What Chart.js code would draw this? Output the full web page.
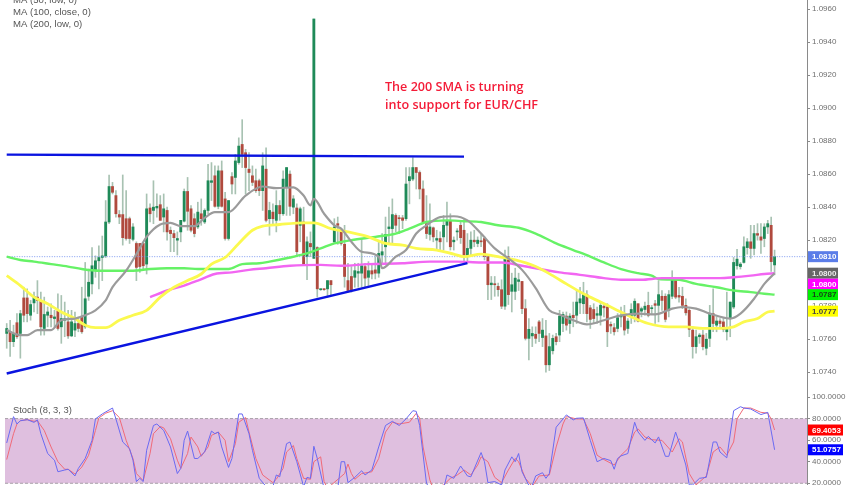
<!DOCTYPE html>
<html>
<head>
<meta charset="utf-8">
<style>
  html, body { margin: 0; padding: 0; background: #fff; overflow: hidden; }
  canvas { position: absolute; left: 0; filter: blur(0.35px); }
  #priceChart { top: 0; }
  #stochChart { top: 388px; }
</style>
<script src="https://cdn.jsdelivr.net/npm/chart.js@4"></script>
</head>
<body>
<canvas id="priceChart" width="852" height="394"></canvas>
<canvas id="stochChart" width="852" height="97"></canvas>
<script>
// EUR/CHF candles, one value per bar
const opens = [
1.07635,1.07645,1.07585,1.077,1.07635,1.0785,1.0785,1.07745,1.0782,1.07855,
1.07835,1.07665,1.07745,1.07745,1.07725,1.0777,1.07675,1.07715,1.07705,1.0762,
1.07655,1.07695,1.07735,1.07675,1.0786,1.07935,1.0802,1.08075,1.08095,1.08105,
1.0831,1.08525,1.0847,1.08355,1.08355,1.0833,1.0833,1.08205,1.0818,1.0818,
1.0818,1.08055,1.08395,1.0838,1.08395,1.08415,1.0834,1.0838,1.0826,1.0824,
1.082,1.0825,1.08315,1.08495,1.0839,1.0833,1.0828,1.0836,1.0831,1.0838,
1.0855,1.0859,1.08405,1.0862,1.0845,1.0821,1.08585,1.0858,1.0867,1.0878,
1.0873,1.0863,1.0859,1.0856,1.0856,1.085,1.0863,1.0833,1.0837,1.0832,
1.0841,1.0836,1.0852,1.086,1.084,1.08395,1.0829,1.0831,1.081,1.0818,
1.0809,1.08155,1.079,1.07905,1.07905,1.07955,1.0819,1.083,1.08255,1.08175,
1.07955,1.0798,1.07975,1.08,1.08,1.0804,1.07975,1.08015,1.0802,1.08,
1.0811,1.0816,1.0827,1.0827,1.0835,1.08335,1.08335,1.0833,1.0856,1.0857,
1.0864,1.0861,1.0851,1.083,1.08235,1.08275,1.082,1.0821,1.0822,1.0829,
1.08315,1.0819,1.0825,1.0829,1.0826,1.081,1.0815,1.082,1.0818,1.08195,
1.0821,1.0811,1.0793,1.07935,1.0792,1.079,1.078,1.081,1.0789,1.0789,
1.0795,1.0795,1.07785,1.07605,1.0762,1.0763,1.07705,1.0761,1.0762,1.07445,
1.0753,1.07615,1.07625,1.07695,1.0774,1.07695,1.07745,1.07745,1.0782,1.07815,
1.0787,1.0779,1.0778,1.07745,1.07745,1.078,1.07795,1.0769,1.0767,1.07665,
1.07735,1.07755,1.07665,1.07735,1.07745,1.07815,1.0777,1.0778,1.07805,1.07785,
1.07815,1.07805,1.0786,1.0786,1.07775,1.0786,1.0797,1.07865,1.0786,1.07805,
1.07775,1.07655,1.07555,1.07615,1.07625,1.07545,1.07605,1.07755,1.07685,1.0771,
1.07705,1.07645,1.07725,1.07795,1.08045,1.0804,1.08065,1.08155,1.0819,1.0815,
1.0824,1.0822,1.0821,1.0828,1.0829,1.0805];
const highs = [
1.07695,1.07715,1.07685,1.07755,1.07775,1.07915,1.07905,1.07835,1.07885,1.07955,
1.07885,1.07855,1.07795,1.07815,1.07775,1.07875,1.07865,1.07825,1.07775,1.07775,
1.07765,1.07735,1.07915,1.08065,1.08025,1.08155,1.08105,1.08165,1.08225,1.0844,
1.08595,1.0855,1.085,1.0838,1.08595,1.085,1.0834,1.083,1.0819,1.0818,
1.0818,1.0848,1.0842,1.0856,1.0848,1.0847,1.0848,1.084,1.0828,1.0826,
1.0825,1.0832,1.0851,1.0858,1.0841,1.0836,1.0843,1.0845,1.0839,1.0866,
1.0867,1.0865,1.0865,1.0868,1.0849,1.0844,1.0861,1.0872,1.0882,1.0893,
1.0875,1.0873,1.0865,1.0863,1.0857,1.0873,1.0876,1.0843,1.0842,1.085,
1.0844,1.0862,1.0864,1.0862,1.0847,1.0842,1.084,1.084,1.0822,1.0825,
1.0954,1.0816,1.07905,1.07905,1.07955,1.07955,1.0833,1.0834,1.0827,1.0829,
1.0806,1.0804,1.0806,1.0806,1.0821,1.0806,1.0807,1.0806,1.081,1.082,
1.0824,1.0834,1.084,1.0845,1.0836,1.0835,1.0835,1.0864,1.0864,1.087,
1.0864,1.0862,1.0856,1.0847,1.0842,1.0828,1.0826,1.0825,1.0835,1.0843,
1.0836,1.0822,1.0827,1.0832,1.0833,1.0824,1.0825,1.0826,1.0822,1.0824,
1.0822,1.0811,1.0798,1.0798,1.0794,1.0796,1.0814,1.0816,1.08,1.0803,
1.08,1.0795,1.0784,1.07725,1.07675,1.07675,1.07715,1.07725,1.07715,1.07635,
1.07625,1.07635,1.07775,1.07765,1.07765,1.07755,1.07825,1.07895,1.07915,1.07945,
1.07895,1.07805,1.07815,1.07795,1.07825,1.07815,1.07815,1.07705,1.07695,1.07755,
1.07795,1.07805,1.07725,1.07815,1.07845,1.07815,1.07795,1.07825,1.07885,1.07805,
1.07835,1.07955,1.07895,1.07875,1.07895,1.08015,1.07975,1.07915,1.07915,1.07845,
1.07785,1.07675,1.07655,1.07635,1.07655,1.07635,1.07805,1.07905,1.07735,1.07725,
1.07725,1.07885,1.07825,1.08095,1.08145,1.08065,1.0822,1.0821,1.0829,1.0829,
1.083,1.083,1.083,1.0832,1.0834,1.0814];
const lows = [
1.07545,1.07495,1.07555,1.07605,1.07485,1.07705,1.07705,1.07715,1.07765,1.07755,
1.07625,1.07625,1.07675,1.07675,1.07675,1.07655,1.07575,1.07615,1.07605,1.07615,
1.07615,1.07645,1.07635,1.07665,1.07835,1.07875,1.07975,1.07905,1.07955,1.08095,
1.083,1.0848,1.0834,1.083,1.0817,1.082,1.0818,1.08195,1.07955,1.08005,
1.08015,1.07995,1.0831,1.083,1.0834,1.0832,1.0825,1.082,1.0813,1.0813,
1.0811,1.0819,1.0831,1.0826,1.0825,1.0822,1.0827,1.0829,1.083,1.0836,
1.0844,1.084,1.0839,1.084,1.082,1.082,1.0848,1.0848,1.0866,1.0864,
1.0848,1.085,1.0853,1.0849,1.0847,1.0838,1.0831,1.0823,1.0829,1.0825,
1.0832,1.0835,1.0835,1.0835,1.0836,1.081,1.0819,1.0805,1.0796,1.081,
1.0809,1.07855,1.07895,1.07895,1.07855,1.07865,1.0818,1.08175,1.0817,1.07915,
1.07885,1.07885,1.07915,1.07915,1.07915,1.07915,1.07925,1.07965,1.07965,1.07975,
1.0806,1.0806,1.0818,1.0818,1.0825,1.0824,1.0827,1.0832,1.0842,1.0856,
1.0851,1.0845,1.083,1.0821,1.082,1.0819,1.0814,1.0814,1.0814,1.0819,
1.0814,1.0814,1.082,1.0818,1.0806,1.0806,1.081,1.0816,1.0816,1.0816,
1.0808,1.0784,1.0784,1.0786,1.0786,1.07785,1.0778,1.0781,1.07765,1.0784,
1.07895,1.07755,1.07595,1.07475,1.07555,1.07575,1.07585,1.07555,1.074,1.0741,
1.0751,1.07565,1.07585,1.07645,1.07655,1.07635,1.07675,1.07695,1.07755,1.07755,
1.07705,1.07665,1.07695,1.07695,1.07685,1.07735,1.07555,1.07635,1.07625,1.07645,
1.07675,1.07625,1.07635,1.07695,1.07705,1.07705,1.07735,1.07745,1.07735,1.07755,
1.07695,1.07705,1.07775,1.07705,1.07735,1.07845,1.07845,1.07825,1.07785,1.07745,
1.07615,1.07485,1.07515,1.07575,1.07535,1.07505,1.07555,1.07645,1.07645,1.07665,
1.07645,1.07595,1.07615,1.07785,1.08025,1.08025,1.0806,1.08115,1.0809,1.0811,
1.082,1.0812,1.0816,1.0824,1.0801,1.0799];
const closes = [
1.07665,1.07585,1.07635,1.07615,1.07755,1.07745,1.07755,1.0781,1.0786,1.07835,
1.07675,1.0775,1.07765,1.0773,1.07735,1.07665,1.07725,1.07725,1.0762,1.07705,
1.07695,1.07665,1.07645,1.07845,1.07945,1.08045,1.08075,1.08095,1.08105,1.0831,
1.08525,1.0849,1.0836,1.0834,1.08215,1.0821,1.0821,1.0828,1.08035,1.0804,
1.08045,1.0839,1.0836,1.084,1.08405,1.0832,1.0839,1.0825,1.0824,1.08215,
1.0821,1.0832,1.08495,1.08375,1.0826,1.0824,1.0837,1.0833,1.0838,1.0856,
1.0856,1.08405,1.0862,1.08405,1.0821,1.0844,1.0854,1.0868,1.0877,1.0872,
1.0864,1.0861,1.0855,1.085,1.085,1.0865,1.0832,1.0838,1.0833,1.0841,
1.0836,1.0857,1.0864,1.08405,1.0845,1.0813,1.0839,1.08055,1.0819,1.0816,
1.0954,1.07905,1.07905,1.079,1.07955,1.0793,1.0828,1.0829,1.0818,1.0798,
1.07895,1.07895,1.08015,1.0801,1.08045,1.0797,1.08015,1.07995,1.08,1.0812,
1.0813,1.08235,1.0828,1.08355,1.0829,1.0833,1.0832,1.0854,1.08585,1.0864,
1.0861,1.0851,1.0831,1.0824,1.0828,1.0822,1.0821,1.0819,1.0829,1.0832,
1.0816,1.082,1.08255,1.08215,1.0811,1.0815,1.082,1.0819,1.082,1.0819,
1.081,1.0793,1.0794,1.0793,1.079,1.078,1.081,1.0787,1.0793,1.0797,
1.0796,1.07785,1.07605,1.0766,1.07635,1.07605,1.07635,1.07655,1.07445,1.07555,
1.07605,1.07585,1.0774,1.0775,1.07685,1.0774,1.0773,1.07825,1.07845,1.0787,
1.07755,1.0772,1.07725,1.07755,1.07805,1.0779,1.07645,1.0768,1.07645,1.0773,
1.07745,1.07655,1.0771,1.0778,1.0783,1.0771,1.07785,1.078,1.07745,1.0779,
1.07805,1.0787,1.07835,1.0772,1.0787,1.0797,1.07855,1.07855,1.07805,1.0776,
1.0766,1.07555,1.07615,1.07625,1.07555,1.076,1.07755,1.07695,1.0771,1.07695,
1.0766,1.07665,1.07825,1.08065,1.08085,1.08055,1.0816,1.0819,1.0815,1.0824,
1.0823,1.082,1.0828,1.083,1.0807,1.081];

// moving averages, sampled at the bar index where the curve could be read
const ma50Index = [0,4,6,9,13,16,20,23,26,29,31,35,38,41,45,48,51,55,58,61,65,70,75,79,84,87,89,90,93,96,98,101,104,109,110,114,117,120,123,127,131,135,139,143,147,151,155,159,162,166,170,175,179,185,190,195,198,202,206,212,215,219,222,225];
const ma50 = [1.07655,1.07625,1.07625,1.07655,1.07655,1.07715,1.07725,1.07745,1.07775,1.07835,1.07915,1.08015,1.08115,1.0822,1.08295,1.08305,1.08285,1.08285,1.08335,1.0837,1.0837,1.0847,1.08525,1.08515,1.0852,1.0847,1.0841,1.0845,1.0836,1.0829,1.0827,1.0819,1.0813,1.081,1.0803,1.081,1.0814,1.0824,1.0829,1.0834,1.08345,1.0832,1.0824,1.0815,1.0809,1.0802,1.0791,1.07775,1.0775,1.07715,1.0769,1.07715,1.0774,1.07755,1.0775,1.07785,1.07795,1.07785,1.07755,1.07725,1.07755,1.07845,1.07935,1.08];
const ma100Index = [0,4,8,12,16,20,23,26,29,33,37,41,45,49,53,57,60,64,68,72,75,80,87,90,95,100,106,111,116,120,126,131,134,139,144,149,155,160,164,169,174,178,183,188,194,199,204,209,213,216,220,223,225];
const ma100 = [1.07985,1.07925,1.07855,1.07815,1.07765,1.07725,1.07685,1.0767,1.0767,1.07715,1.07745,1.07775,1.07855,1.07915,1.07955,1.07995,1.08055,1.08095,1.0818,1.0826,1.08285,1.08295,1.08305,1.08305,1.0827,1.0825,1.0822,1.0818,1.0817,1.0815,1.0814,1.08115,1.081,1.08115,1.081,1.0808,1.0804,1.07985,1.07935,1.07875,1.07825,1.07785,1.07735,1.07695,1.07675,1.07675,1.07665,1.07665,1.07675,1.07705,1.07725,1.07765,1.0777];
const ma200Index = [0,4,8,13,18,22,27,32,37,42,47,52,56,61,65,69,74,77,83,87,92,96,101,108,114,118,123,129,134,139,144,150,155,161,166,171,175,180,185,189,191,197,202,208,213,218,222,225];
const ma200 = [1.081,1.0808,1.0807,1.08055,1.0804,1.08025,1.08015,1.08015,1.08015,1.08025,1.0803,1.0803,1.08025,1.08025,1.08025,1.08055,1.0806,1.0807,1.08095,1.08115,1.0815,1.0818,1.082,1.0822,1.0824,1.0827,1.0831,1.0832,1.08315,1.0831,1.0829,1.08275,1.0824,1.0818,1.0814,1.081,1.08065,1.08025,1.08,1.07985,1.07965,1.0796,1.07935,1.07915,1.07895,1.07885,1.07875,1.0787];
const ma200bIndex = [42,47,52,56,61,66,71,76,83,92,98,106,116,124,132,139,145,151,159,162,168,175,180,186,192,198,203,209,213,218,222,225];
const ma200b = [1.07855,1.07895,1.07925,1.07955,1.07995,1.08005,1.0802,1.0803,1.08045,1.0805,1.08045,1.08055,1.0806,1.0807,1.0807,1.08065,1.08065,1.08045,1.08015,1.08005,1.0799,1.0797,1.0796,1.0796,1.0797,1.0797,1.0797,1.0797,1.07975,1.07985,1.07995,1.08];

// hand-drawn trend lines: [bar index, price]
const topLine = [[0, 1.08718], [134, 1.08706]];
const riseLine = [[0, 1.07392], [135, 1.08061]];
const lastPrice = 1.081;

// stochastic %K and %D, sampled where the curve turns
const kIndex = [0,2,3,4,6,8,9,10,12,14,15,17,18,20,21,23,25,26,28,31,32,34,36,37,38,39,40,41,43,44,46,48,50,51,52,53,55,56,58,60,61,62,63,65,66,68,69,71,72,74,76,78,79,80,82,83,85,87,88,89,90,91,93,97,98,99,100,102,104,105,107,109,111,113,115,117,119,120,121,123,124,128,129,131,133,135,136,139,140,141,143,145,146,148,149,150,151,153,154,155,157,158,159,161,164,166,167,169,171,173,175,177,178,179,180,182,184,185,187,188,190,191,193,194,196,197,199,200,201,203,205,207,208,209,211,213,215,216,218,221,223,225];
const kValues = [57.4,81.8,75,78,79,76.5,78.8,66,47.6,41.4,30.7,32.3,33,26.8,33.8,43,59.8,79.7,84.3,89.8,79.7,58.3,52,41.4,21.6,24.6,21.6,50.6,73.6,75,69,53.7,29,33.8,59.8,68.4,43,43,49,68.4,66,67.5,53.7,34.7,43,84.3,84.3,66,50.6,24.6,17,17,27.7,26,56.7,58.3,40,17,25.5,24.6,54.3,43,15,15,40,40,20.6,25.5,31.6,27.7,32.3,53.7,73.6,77.5,73.6,79.7,87.3,86.7,73.6,20,15,15,27.7,24.6,36,26.8,26,48.5,40,20.6,21.6,18.5,32.3,44.5,40,47.6,30.7,18,18,26.8,29.8,24.6,29,72,83.4,78.8,80.3,80.6,59.8,40,43,41,33,43,45.4,47.6,76.6,67.5,59.8,63.5,57.4,63,45,45,67.5,58.3,36.9,18.5,18.5,24.6,25.5,58.3,58.3,49,43.6,87.3,91,89.8,88.9,83.7,85.8,51.0757];
const dIndex = [0,2,3,4,6,8,9,11,13,15,17,18,20,22,24,26,27,29,31,33,35,37,38,40,42,43,45,46,48,50,51,53,54,56,57,59,60,62,64,65,67,68,70,71,73,75,78,79,81,82,84,85,87,89,90,92,93,94,99,100,101,102,104,107,109,111,113,115,118,120,121,122,124,125,128,130,132,134,136,138,139,141,143,145,147,149,150,152,154,156,159,161,163,164,167,169,171,173,175,178,180,182,184,185,187,189,192,195,197,198,200,202,205,207,209,211,213,214,216,218,221,223,224,225];
const dValues = [42,66,75,78,79,77.5,78,69,53.7,40,33,33,28.6,35,46,69,80.6,85,87.3,81,59.8,43,29,22.5,47.6,66,72.6,71.4,61.3,41.4,33.8,47.6,62.9,53.7,45,53.7,64.4,67.5,59.8,40,56.7,76.6,81,67.5,43,27.7,20.6,23.7,33.8,49,55,43,24.6,23.7,40,44.5,21.6,15.4,29,37.8,29,23.7,29,30.7,43,67.5,76.6,75,76.6,84.9,80.6,53.7,23,15,18.5,24.6,27.7,32.3,27.7,36.9,44.5,40,25.5,20.6,32.3,43,40,24.6,17,26.8,27.7,53.7,75,81.8,79.7,79.7,66,46,42,36.9,46,52,67.5,70.5,62.9,60.4,59.8,49,61.3,58.3,29,18.5,26.8,49,53.7,46,58.3,79.7,89.8,89.8,85.8,85,79.7,69.4053];

// axis ticks, legend text, tags
const priceTicks = [1.096,1.094,1.092,1.09,1.088,1.086,1.084,1.082,1.08,1.078,1.076,1.074];
const stochTicks = [100,80,60,40,20];
const stochBand = [80,20];
const legendLines = ['MA (50, low, 0)', 'MA (100, close, 0)', 'MA (200, low, 0)'];
const noteLines = ['The 200 SMA is turning', 'into support for EUR/CHF'];
const priceTags = [1.081, 1.08, 1.08, 1.0787, 1.0777];
const stochTags = [69.4053, 51.0757];

const SLOTS = 235; // room for a few empty bars before the axis
const labels = Array.from({ length: SLOTS }, (_, i) => i);
const UP = '#1f8a58', DOWN = '#b04a3e', WICK = '#a8c2b2';
const AXIS = '#8a8a8a', TEXT = '#6f6f6f';
const UIFONT = '"Liberation Sans", Arial, sans-serif';

const pts = (xs, ys) => xs.map((x, i) => ({ x, y: ys[i] }));
const pairPts = rows => rows.map(r => ({ x: r[0], y: r[1] }));
const lineSet = (data, color, width, order, extra) => Object.assign({
  type: 'line', data, borderColor: color, borderWidth: width, pointRadius: 0,
  cubicInterpolationMode: 'monotone', order, fill: false
}, extra || {});

function tag(ctx, y, txt, bg, fg, w) {
  ctx.fillStyle = bg;
  ctx.fillRect(808, y - 5.5, w, 11);
  ctx.fillStyle = fg;
  ctx.font = 'bold 8px ' + UIFONT;
  ctx.textAlign = 'left';
  ctx.textBaseline = 'middle';
  ctx.fillText(txt, 812, y + 0.5);
}

const priceOverlay = {
  id: 'priceOverlay',
  afterDraw(chart) {
    const { ctx, scales: { y } } = chart;
    ctx.save();
    ctx.fillStyle = '#555';
    ctx.font = '9.6px ' + UIFONT;
    ctx.textBaseline = 'middle';
    legendLines.forEach((t, i) => ctx.fillText(t, 13, 0.5 + i * 11.9));
    ctx.fillStyle = '#f41c38';
    ctx.font = '600 12.6px "Open Sans", sans-serif';
    noteLines.forEach((t, i) => ctx.fillText(t, 385, 87 + i * 18));
    const bg = ['#5b7de8', '#666666', '#ff00ff', '#00f000', '#ffff00'];
    const fg = ['#fff', '#eee', '#fff', '#1a3a1a', '#444'];
    const shift = [0, 0, 11, 0, 0];
    priceTags.forEach((p, i) =>
      tag(ctx, y.getPixelForValue(p) + shift[i], p.toFixed(4), bg[i], fg[i], 30));
    ctx.restore();
  }
};

const stochOverlay = {
  id: 'stochOverlay',
  beforeDatasetsDraw(chart) {
    const { ctx, chartArea: a, scales: { y } } = chart;
    const top = y.getPixelForValue(stochBand[0]), bot = y.getPixelForValue(stochBand[1]);
    ctx.save();
    ctx.fillStyle = '#dfbfdf';
    ctx.fillRect(a.left, top, a.right - a.left, bot - top);
    ctx.strokeStyle = '#a8a0a8';
    ctx.setLineDash([3, 2]);
    [top, bot].forEach(p => {
      ctx.beginPath(); ctx.moveTo(a.left, p); ctx.lineTo(a.right, p); ctx.stroke();
    });
    ctx.restore();
  },
  afterDraw(chart) {
    const { ctx, scales: { y } } = chart;
    ctx.save();
    ctx.fillStyle = '#555';
    ctx.font = '9.4px ' + UIFONT;
    ctx.textBaseline = 'middle';
    ctx.fillText('Stoch (8, 3, 3)', 13, 22);
    tag(ctx, y.getPixelForValue(stochTags[0]), stochTags[0].toFixed(4), '#ff0000', '#fff', 35);
    tag(ctx, y.getPixelForValue(stochTags[1]), stochTags[1].toFixed(4), '#0000ff', '#fff', 35);
    ctx.restore();
  }
};

const commonX = {
  offset: true,
  afterFit: s => { s.paddingLeft = 0; s.paddingRight = 0; },
  grid: { display: false, drawTicks: false },
  ticks: { display: false }
};
const yAxis = (min, max, ticks, digits) => ({
  position: 'right', min, max,
  afterBuildTicks: s => { s.ticks = ticks.map(value => ({ value })); },
  // ticks never sit on the ends of this axis, so no room for half a label is needed
  afterFit: s => { s.width = 45; s.paddingTop = 0; s.paddingBottom = 0; },
  grid: { display: true, drawOnChartArea: false, drawTicks: true, tickLength: 3, color: AXIS },
  border: { color: AXIS },
  ticks: {
    padding: 2, color: TEXT, font: { size: 8, family: UIFONT },
    autoSkip: false, callback: v => v.toFixed(digits)
  }
});

new Chart(document.getElementById('priceChart'), {
  type: 'bar',
  data: {
    labels,
    datasets: [
      { data: lows.map((l, i) => [l, highs[i]]), backgroundColor: WICK, barThickness: 1, grouped: false, order: 11 },
      { data: opens.map((o, i) => [o, closes[i]]), backgroundColor: opens.map((o, i) => closes[i] >= o ? UP : DOWN),
        barThickness: 2.2, minBarLength: 1, grouped: false, order: 10 },
      lineSet([{ x: 0, y: lastPrice }, { x: SLOTS - 1, y: lastPrice }], '#7f9af0', 1, 9, { borderDash: [1, 1.5] }),
      lineSet(pts(ma200Index, ma200), '#66f266', 2.4, 6),
      lineSet(pts(ma200bIndex, ma200b), '#f266f2', 2.4, 5),
      lineSet(pts(ma100Index, ma100), '#fbf94f', 2.8, 4),
      lineSet(pts(ma50Index, ma50), '#9b9b9b', 2.2, 3),
      lineSet(pairPts(topLine), '#0a14e0', 2.4, 2),
      lineSet(pairPts(riseLine), '#0a14e0', 2.4, 1)
    ]
  },
  options: {
    responsive: false, animation: false, devicePixelRatio: 1,
    layout: { padding: { left: 5, top: 0, right: 0, bottom: 0 } },
    plugins: { legend: { display: false }, tooltip: { enabled: false } },
    scales: {
      x: Object.assign({ border: { color: AXIS } }, commonX),
      y: yAxis(1.07268, 1.09655, priceTicks, 4)
    }
  },
  plugins: [priceOverlay]
});

new Chart(document.getElementById('stochChart'), {
  type: 'line',
  data: {
    labels,
    datasets: [
      lineSet(pts(kIndex, kValues), '#6a6af2', 1, 1, { cubicInterpolationMode: 'default' }),
      lineSet(pts(dIndex, dValues), '#f06a78', 1, 2, { cubicInterpolationMode: 'default' })
    ]
  },
  options: {
    responsive: false, animation: false, devicePixelRatio: 1,
    layout: { padding: { left: 5, top: 6, right: 0, bottom: 0 } },
    plugins: { legend: { display: false }, tooltip: { enabled: false } },
    scales: {
      x: Object.assign({ display: false }, commonX),
      y: yAxis(18.4, 102.8, stochTicks, 4)
    }
  },
  plugins: [stochOverlay]
});
</script>
</body>
</html>
